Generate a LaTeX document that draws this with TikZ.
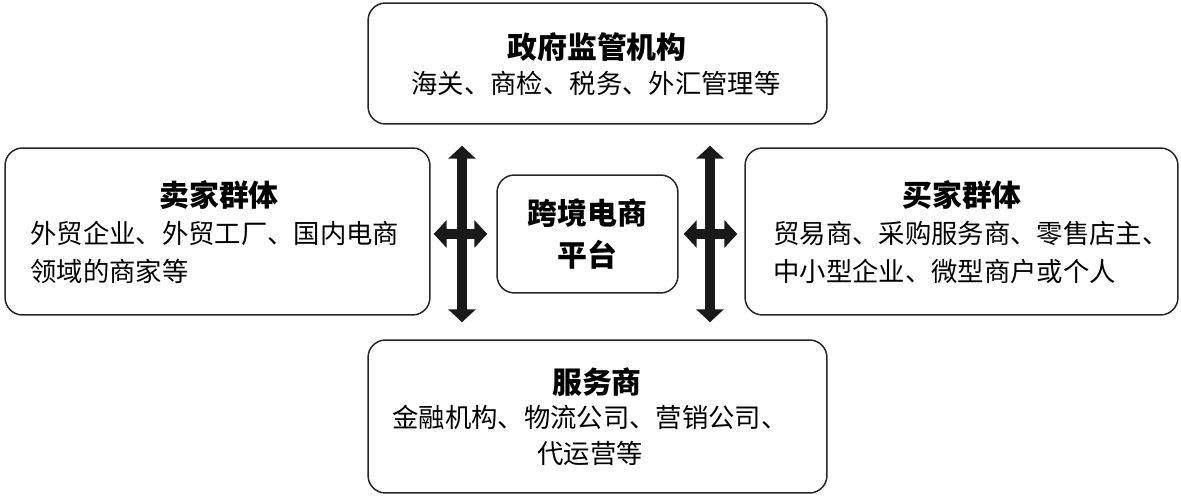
\documentclass[tikz,border=0pt]{standalone}
\usepackage{fontspec}
\setmainfont{Noto Sans CJK SC}
\usepackage{tikz}
\usetikzlibrary{arrows.meta}
\tikzset{
    box/.style={draw=black!85,line width=0.85pt,rounded corners=0.35cm,inner sep=0pt},
    head/.style={inner sep=0pt,font=\fontsize{17pt}{24pt}\selectfont\bfseries},
    body/.style={inner sep=0pt,align=left,font=\fontsize{15pt}{22pt}\selectfont},
    dblarrow/.style={line width=0.2cm,black!90,{Triangle[width=0.54cm,length=0.26cm]}-{Triangle[width=0.54cm,length=0.26cm]}}
}

\begin{document}
\begin{tikzpicture}[x=0.02cm,y=-0.02cm]
    \useasboundingbox (0,0) rectangle (1181,500);
    % boxes
    \node[box,minimum width=9.18cm,minimum height=2.42cm] (gov) at (597.5,63.5) {};
    \node[box,minimum width=8.5cm,minimum height=3.34cm] (seller) at (217.5,231.5) {};
    \node[box,minimum width=8.66cm,minimum height=3.34cm] (buyer) at (961.5,231.5) {};
    \node[box,minimum width=9.18cm,minimum height=3.06cm] (service) at (597.5,416.5) {};
    \node[box,minimum width=3.62cm,minimum height=2.36cm] (platform) at (587.5,234) {};
    % texts
    \node[head] (govhead) at (597,47) {政府监管机构};
    \node[body] (govtext) at (596,83) {海关、商检、税务、外汇管理等};
    \node[head] (sellerhead) at (219,195) {卖家群体};
    \node[body,anchor=west] (sellertext) at (30,252.5) {外贸企业、外贸工厂、国内电商\\领域的商家等};
    \node[head] (buyerhead) at (962,195) {买家群体};
    \node[body,anchor=west] (buyertext) at (773,252.5) {贸易商、采购服务商、零售店主、\\中小型企业、微型商户或个人};
    \node[head,align=center,font=\fontsize{17pt}{24pt}\selectfont\bfseries] (platformtext) at (587.5,234) {跨境电商\\平台};
    \node[head] (servicehead) at (597,382) {服务商};
    \node[body,align=center,font=\fontsize{15pt}{20.5pt}\selectfont] (servicetext) at (590,435) {金融机构、物流公司、营销公司、\\代运营等};
    % arrows
    \coordinate (lcross) at (462,235);
    \coordinate (rcross) at (710,235);
    \draw[dblarrow,shorten <=0.42cm,shorten >=0.34cm] (gov.south -| lcross) -- (service.north -| lcross);
    \draw[dblarrow,shorten <=0.42cm,shorten >=0.34cm] (gov.south -| rcross) -- (service.north -| rcross);
    \draw[dblarrow,shorten <=0.06cm,shorten >=0.18cm] (seller.east |- platform.west) -- (platform.west);
    \draw[dblarrow,shorten <=0.1cm,shorten >=0.14cm] (platform.east) -- (buyer.west |- platform.east);
\end{tikzpicture}
\end{document}
